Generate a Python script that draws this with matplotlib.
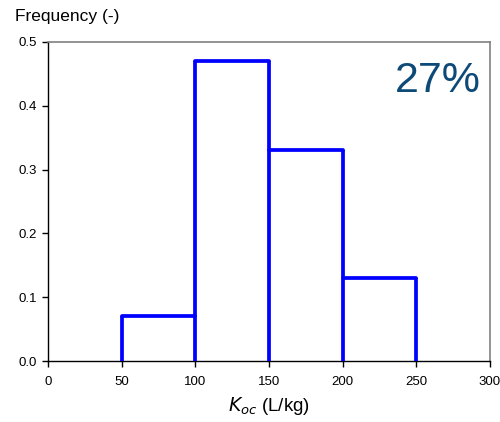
import matplotlib
matplotlib.use("Agg")
import matplotlib.pyplot as plt
import numpy as np

plt.rcParams['font.family'] = ['Liberation Sans', 'DejaVu Sans']

bin_edges = [50, 100, 150, 200, 250]
frequencies = [0.07, 0.47, 0.33, 0.13]
x_ticks = [0, 50, 100, 150, 200, 250, 300]
y_ticks = [0.0, 0.1, 0.2, 0.3, 0.4, 0.5]
annotation = "27%"

fig = plt.figure(figsize=(5.0, 4.22), dpi=100)
ax = fig.add_axes([0.096, 0.1445, 0.884, 0.756])

blue = "#0000FF"
lw = 2.7
# horizontal tops
for i, f in enumerate(frequencies):
    ax.plot([bin_edges[i], bin_edges[i + 1]], [f, f], color=blue, lw=lw,
            solid_capstyle='round', solid_joinstyle='round', zorder=3)
# vertical edges
for j, e in enumerate(bin_edges):
    left = frequencies[j - 1] if j - 1 >= 0 else 0
    right = frequencies[j] if j < len(frequencies) else 0
    ax.plot([e, e], [0, max(left, right)], color=blue, lw=lw,
            solid_capstyle='butt', zorder=3)

ax.set_xlim(0, 300)
ax.set_ylim(0, 0.5)
ax.set_xticks(x_ticks)
ax.set_xticklabels([str(t) for t in x_ticks])
ax.set_yticks(y_ticks)
ax.set_yticklabels([f"{t:.1f}" for t in y_ticks])
ax.tick_params(axis='both', direction='out', length=4, width=1, labelsize=9.5,
               colors='black', pad=4)
ax.tick_params(axis='x', pad=7)
for s in ['top', 'right']:
    ax.spines[s].set_color('#808080')
    ax.spines[s].set_linewidth(1.2)
for s in ['left', 'bottom']:
    ax.spines[s].set_color('black')
    ax.spines[s].set_linewidth(1.0)

ax.set_xlabel(r"$K_{oc}$ (L/kg)", fontsize=13.5, labelpad=5)
fig.text(0.03, 0.96, "Frequency (-)", fontsize=12.5, ha='left', va='center')
ax.text(0.98, 0.844, annotation, transform=ax.transAxes, fontsize=31,
        color='#0D4A78', ha='right', va='baseline')

fig.savefig("out.png", dpi=100)
